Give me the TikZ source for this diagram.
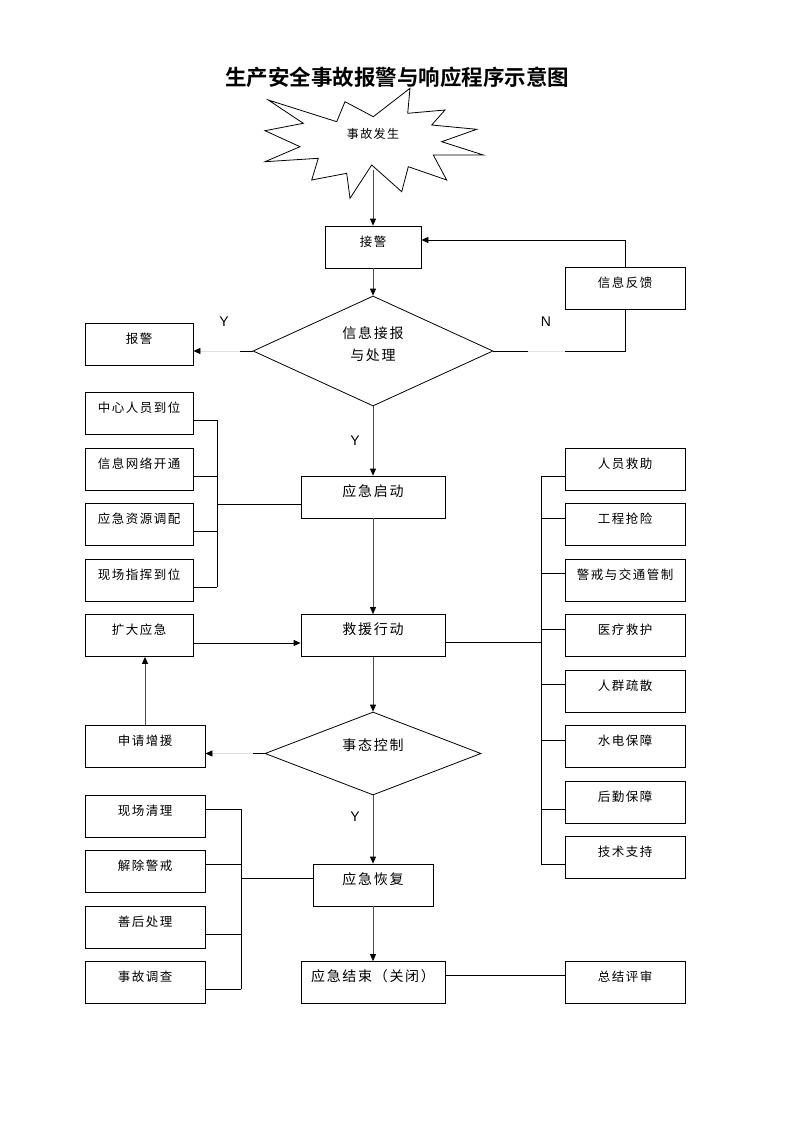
\documentclass[tikz,border=0pt]{standalone}
\usepackage{fontspec}
\usetikzlibrary{shapes.geometric}
\usetikzlibrary{arrows.meta}
\newfontfamily\cjk{Noto Sans CJK SC}[BoldFont={* Bold}]
\newfontfamily\cjkwide{Noto Sans CJK SC}[LetterSpace=12]
\newfontfamily\latin{Liberation Sans}
\tikzstyle{stepbox}=[draw, line width=0.8pt, inner sep=0pt, text height=20pt, text depth=22pt, font=\cjkwide\fontsize{12.5}{14}\selectfont]
\tikzstyle{mainbox}=[stepbox, font=\cjkwide\fontsize{14}{16}\selectfont]
\tikzstyle{choice}=[draw, diamond, line width=0.8pt, inner sep=0pt]
\tikzstyle{choicetext}=[align=center, font=\cjkwide\fontsize{14}{22}\selectfont]
\tikzstyle{flow}=[line width=0.8pt, black!70, -{Triangle[length=7pt,width=6pt,color=black]}]
\tikzstyle{faintflow}=[line width=0.8pt, black!12, -{Triangle[length=7pt,width=6pt,color=black]}]
\tikzstyle{fork}=[line width=0.8pt]
\tikzstyle{yesno}=[font=\latin\fontsize{14}{16}\selectfont]
\newcommand{\busleft}[2]{% Syntax: {bus x}{node/y list}
  \foreach \n/\y in {#2} { \draw[fork] (\n.east |- 0,\y) -- (#1,\y); }
}

\begin{document}
\begin{tikzpicture}[x=1pt, y=-1pt]
  \useasboundingbox (0,0) rectangle (793,1122);
  \node[font=\cjk\bfseries\fontsize{21.5}{24}\selectfont] (title) at (397,77) {生产安全事故报警与响应程序示意图};
  % starburst
  \draw[line width=0.8pt] (268.3,100) -- (336.7,121.7) -- (345,101.7) -- (373.3,116.7) -- (410,88.3)
    -- (407.7,113.3) -- (445,110) -- (431.7,125) -- (476.7,129.3) -- (441.7,141.7) -- (483.3,155)
    -- (433.3,155) -- (446.7,180) -- (408.3,166.7) -- (401.7,191.7) -- (371.7,165) -- (350,198.3)
    -- (346.7,173.3) -- (311.7,180) -- (318.3,158.3) -- (265,161.7) -- (300,146.7) -- (265,130.7)
    -- (303.3,123.3) -- cycle;
  \node[font=\cjkwide\fontsize{12}{14}\selectfont] (accident) at (373,134) {事故发生};
  \coordinate (burstfoot) at (373,170);

  % main column
  \node[stepbox, minimum width=96pt] (recv) at (373,247) {接警};
  \node[choice, minimum width=240pt, minimum height=110pt] (check) at (373,351) {};
  \node[choicetext] (checktext) at (373,344) {信息接报\\与处理};
  \node[mainbox, minimum width=144pt] (start) at (373,497) {应急启动};
  \node[mainbox, minimum width=144pt] (rescue) at (373,635.5) {救援行动};
  \node[choice, minimum width=216pt, minimum height=83pt] (control) at (373,753.5) {};
  \node[choicetext] (controltext) at (373,745) {事态控制};
  \node[mainbox, minimum width=120pt] (recover) at (373,885) {应急恢复};
  \node[mainbox, minimum width=144pt] (close) at (373,982.5) {应急结束（关闭）};

  \draw[flow] (burstfoot) -- (recv.north);
  \draw[flow] (recv.south) -- (check.north);
  \draw[flow] (check.south) -- (start.north);
  \draw[flow] (start.south) -- (rescue.north);
  \draw[flow] (rescue.south) -- (control.north);
  \draw[flow] (control.south) -- (recover.north);
  \draw[flow] (recover.south) -- (close.north);
  \node[yesno] (yes1) at (224,322) {Y};
  \node[yesno] (no1) at (546,322) {N};
  \node[yesno] (yes2) at (355,441) {Y};
  \node[yesno] (yes3) at (355,817) {Y};

  % alarm and feedback
  \node[stepbox, minimum width=108pt] (alarm) at (139,344) {报警};
  \node[stepbox, minimum width=120pt] (feedback) at (625,288.5) {信息反馈};
  \coordinate (ystub) at (240,351);
  \draw[fork] (check.west) -- (ystub);
  \draw[faintflow] (ystub) -- (alarm.east |- ystub);
  \coordinate (ngap) at (528,351);
  \coordinate (nback) at (565,351);
  \draw[fork] (check.east) -- (ngap);
  \draw[fork, black!10] (ngap) -- (nback);
  \draw[fork] (nback) -| (feedback.south);
  \draw[fork, -{Triangle[length=7pt,width=6pt]}] (feedback.north) |- ([yshift=7pt]recv.east);

  % preparation
  \node[stepbox, minimum width=108pt] (staff) at (139,413.5) {中心人员到位};
  \node[stepbox, minimum width=108pt] (network) at (139,469) {信息网络开通};
  \node[stepbox, minimum width=108pt] (resource) at (139,524.5) {应急资源调配};
  \node[stepbox, minimum width=108pt] (command) at (139,580) {现场指挥到位};
  \busleft{217}{staff/420, network/476, resource/531, command/587}
  \draw[fork] (217,420) -- (217,587);
  \coordinate (prepbus) at (217,504);
  \draw[fork] (prepbus) -- (start.west |- prepbus);

  % rescue actions
  \node[stepbox, minimum width=120pt] (victims) at (625,469) {人员救助};
  \node[stepbox, minimum width=120pt] (repair) at (625,524.5) {工程抢险};
  \node[stepbox, minimum width=120pt] (traffic) at (625,580) {警戒与交通管制};
  \node[stepbox, minimum width=120pt] (medical) at (625,635.5) {医疗救护};
  \node[stepbox, minimum width=120pt] (evacuate) at (625,691) {人群疏散};
  \node[stepbox, minimum width=120pt] (utility) at (625,746.5) {水电保障};
  \node[stepbox, minimum width=120pt] (logistic) at (625,802) {后勤保障};
  \node[stepbox, minimum width=120pt] (technical) at (625,857.5) {技术支持};
  \foreach \n/\y in {victims/476, repair/518, traffic/573, medical/629, evacuate/684, utility/740, logistic/809, technical/864}
    { \draw[fork] (\n.west |- 0,\y) -- (541,\y); }
  \draw[fork] (541,476) -- (541,864);
  \coordinate (actbus) at (541,642);
  \draw[fork] (rescue.east |- actbus) -- (actbus);

  % escalation
  \node[stepbox, minimum width=108pt] (expand) at (139,635.5) {扩大应急};
  \node[stepbox, minimum width=120pt] (reinforce) at (145,746.5) {申请增援};
  \draw[flow, black] ([yshift=-7.5pt]expand.east) -- ([yshift=-7.5pt]rescue.west);
  \draw[flow] (reinforce.north) -- (reinforce.north |- expand.south);
  \coordinate (cstub) at (253,753.5);
  \draw[fork] (control.west) -- (cstub);
  \draw[faintflow] (cstub) -- (reinforce.east |- cstub);

  % recovery
  \node[stepbox, minimum width=120pt] (cleanup) at (145,816) {现场清理};
  \node[stepbox, minimum width=120pt] (release) at (145,871.5) {解除警戒};
  \node[stepbox, minimum width=120pt] (aftermath) at (145,927) {善后处理};
  \node[stepbox, minimum width=120pt] (inquiry) at (145,982.5) {事故调查};
  \busleft{241}{cleanup/809, release/864, aftermath/934, inquiry/989}
  \draw[fork] (241,809) -- (241,989);
  \coordinate (recbus) at (241,878);
  \draw[fork] (recbus) -- (recover.west |- recbus);

  \node[stepbox, minimum width=120pt] (review) at (625,982.5) {总结评审};
  \coordinate (revstub) at (445,975);
  \draw[fork] (close.east |- revstub) -- (review.west |- revstub);
\end{tikzpicture}
\end{document}
